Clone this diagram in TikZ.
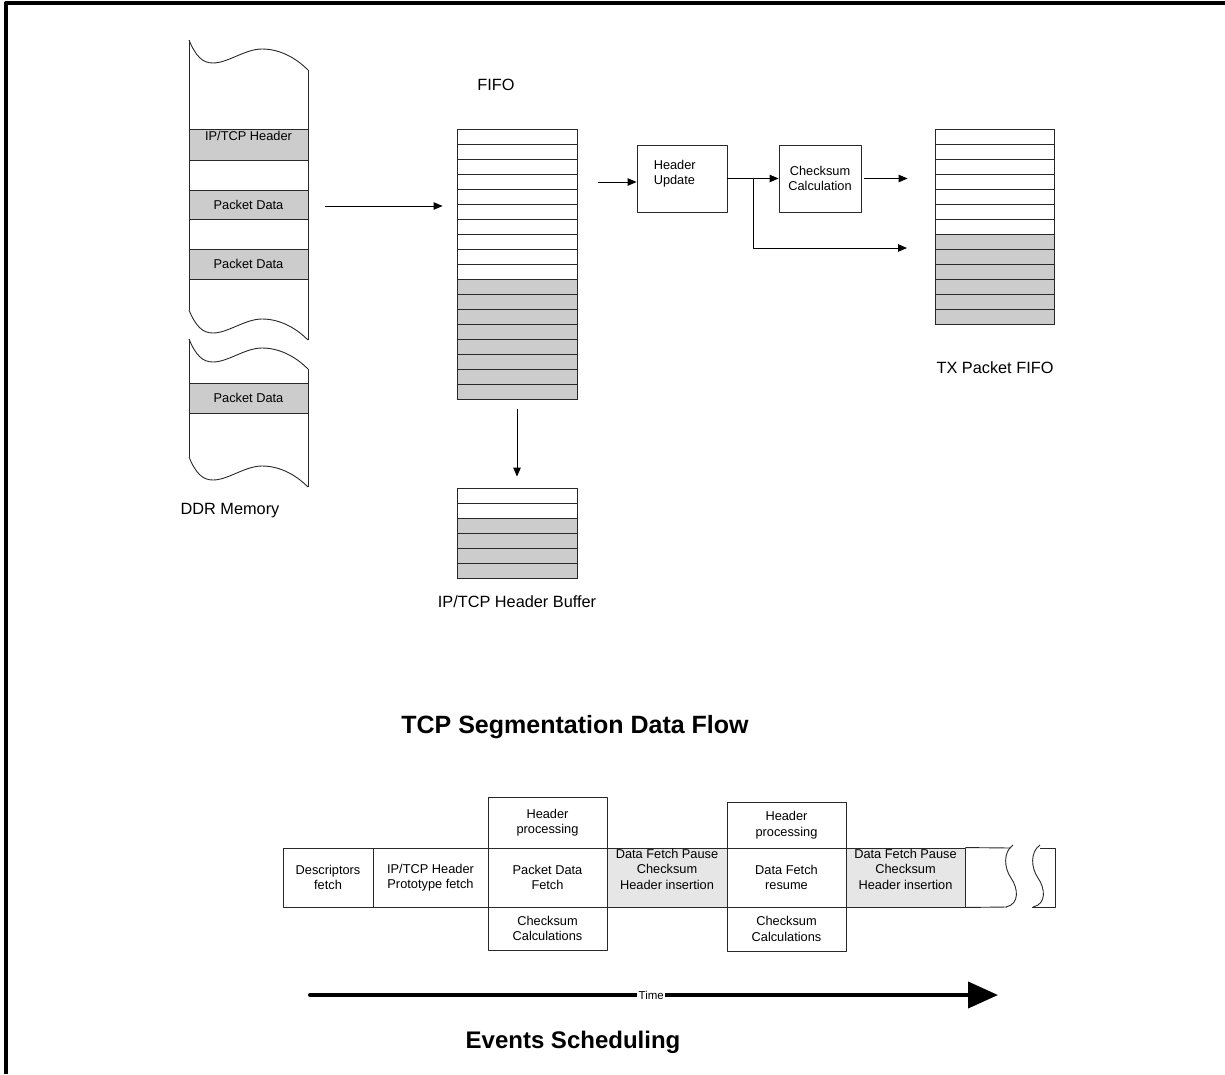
\documentclass[tikz,border=0pt]{standalone}
\usepackage{fontspec}
\setmainfont{Liberation Sans}
\usetikzlibrary{arrows.meta,positioning}
\definecolor{cellgray}{RGB}{204,204,204}
\definecolor{slotgray}{RGB}{230,230,230}
\definecolor{edge}{RGB}{40,40,40}

\begin{document}
\begin{tikzpicture}[x=1pt,y=-1pt,line join=round,>={Triangle[length=9pt,width=7.5pt]},
  every node/.style={inner sep=1pt},
  txt/.style={font=\fontsize{12.8}{15.5}\selectfont,align=center},
  captxt/.style={font=\fontsize{16.3}{19}\selectfont},
  heading/.style={font=\bfseries\fontsize{#1}{28}\selectfont},
  slot/.style args={#1x#2}{draw=edge,line width=0.9pt,inner sep=0pt,minimum width=#1,minimum height=#2},
  mem/.style={draw=edge,line width=0.9pt},
  cell/.style={draw=edge,line width=0.9pt},
  flow/.style={draw=black,line width=0.9pt,->}]
  \useasboundingbox (0,0) rectangle (1225,1074);
  % frame
  \draw[line width=4pt] (6,1074) -- (6,3) -- (1225,3);

  % DDR memory
  \node[slot=119x31,fill=cellgray] (hdr) at (248.5,144.5) {};
  \node[txt,below=1pt] (hdrt) at (hdr.north) {IP/TCP Header};
  \node[slot=119x29,fill=cellgray,txt] (pd1) at (248.5,204.5) {Packet Data};
  \node[slot=119x30,fill=cellgray,txt] (pd2) at (248.5,264) {Packet Data};
  \node[slot=119x30,fill=cellgray,txt] (pd3) at (248.5,398) {Packet Data};
  \foreach \o in {0,270,299,417}
    \draw[mem] (189,{40+\o}) .. controls (196,{57+\o}) and (203,{63+\o}) .. (213,{63+\o})
      .. controls (228,{63+\o}) and (245,{49+\o}) .. (262,{49+\o})
      .. controls (282,{49+\o}) and (298,{60+\o}) .. (308,{70+\o});
  \draw[mem] (189,40) -- (189,310) (308,70) -- (308,340);
  \draw[mem] (189,339) -- (189,457) (308,369) -- (308,487);
  \node[captxt] (ddrl) at (230,511) {DDR Memory};

  % FIFO
  \foreach \i in {0,...,9} \draw[cell] (457,{129+15*\i}) rectangle ++(120,15);
  \foreach \i in {10,...,17} \draw[cell,fill=cellgray] (457,{129+15*\i}) rectangle ++(120,15);
  \node[slot=120x270] (fifo) at (517,264) {};
  \node[captxt] (fifol) at (496,85) {FIFO};

  % header buffer
  \foreach \i in {0,1} \draw[cell] (457,{488+15*\i}) rectangle ++(120,15);
  \foreach \i in {2,...,5} \draw[cell,fill=cellgray] (457,{488+15*\i}) rectangle ++(120,15);
  \node[slot=120x90] (hbuf) at (517,533) {};
  \node[captxt] (hbl) at (517,602) {IP/TCP Header Buffer};

  % TX packet FIFO
  \foreach \i in {0,...,6} \draw[cell] (935,{129+15*\i}) rectangle ++(119,15);
  \foreach \i in {7,...,12} \draw[cell,fill=cellgray] (935,{129+15*\i}) rectangle ++(119,15);
  \node[slot=119x195] (txf) at (994.5,226.5) {};
  \node[captxt] (txl) at (995,368) {TX Packet FIFO};

  % processing blocks
  \node[slot=90x67] (hupd) at (682,178.5) {};
  \node[txt,align=left,anchor=north west] (hupdt) at ([xshift=16pt,yshift=-14pt]hupd.north west) {Header\\Update};
  \node[slot=82x67,txt] (csum) at (820,178.5) {Checksum\\Calculation};

  \coordinate (ddrout) at (325,206);
  \coordinate (fifoout) at (598,182);
  \coordinate (split) at (753,178.5);
  \coordinate (txin) at (907,248);
  \draw[flow,shorten >=14pt] (ddrout) -- (ddrout -| fifo.west);
  \draw[flow,shorten <=10pt,shorten >=11pt] (fifo.south) -- (hbuf.north);
  \draw[flow] (fifoout) -- (fifoout -| hupd.west);
  \draw[flow] (hupd.east) -- (csum.west);
  \draw[flow] (split) |- (txin);
  \draw[flow,shorten <=3pt,shorten >=27pt] (csum.east) -- (csum.east -| txf.west);

  \node[heading=25] (title1) at (575,727) {TCP Segmentation Data Flow};

  % events row
  \node[slot=90x59,txt] (desc) at (328,877.5) {Descriptors\\fetch};
  \node[slot=115x59,txt] (proto) at (430.5,877.5) {IP/TCP Header\\Prototype fetch};
  \node[slot=119x51,txt] (hp1) at (547.5,822.5) {Header\\processing};
  \node[slot=119x59,txt] (pdf) at (547.5,877.5) {Packet Data\\Fetch};
  \node[slot=119x43,txt] (cc1) at (547.5,928.5) {Checksum\\Calculations};
  \node[slot=120x59,fill=slotgray] (gap1) at (667,877.5) {};
  \node[txt,below=0pt] (gap1t) at (gap1.north) {Data Fetch Pause\\Checksum\\Header insertion};
  \node[slot=119x46,txt] (hp2) at (786.5,825) {Header\\processing};
  \node[slot=119x59,txt] (dfr) at (786.5,877.5) {Data Fetch\\resume};
  \node[slot=119x44,txt] (cc2) at (786.5,929) {Checksum\\Calculations};
  \node[slot=119x59,fill=slotgray] (gap2) at (905.5,877.5) {};
  \node[txt,below=0pt] (gap2t) at (gap2.north) {Data Fetch Pause\\Checksum\\Header insertion};
  % open end with break marks
  \draw[mem] (gap2.north east) -- (1011,848);
  \draw[mem] (gap2.south east) -- (1007,907);
  \draw[mem] (1040,848) -- (1055,848) -- (1055,907) -- (1032,907);
  \foreach \dx in {0,27}
    \draw[mem] ({1013+\dx},845) .. controls ({1003+\dx},852) and ({1004+\dx},868) .. ({1011+\dx},878)
      .. controls ({1018+\dx},888) and ({1020+\dx},904) .. ({1006+\dx},907);

  % time axis
  \coordinate (tstart) at (310,995);
  \coordinate (tend) at (998,995);
  \draw[line width=4pt,line cap=round,-{Triangle[length=30pt,width=26pt]}] (tstart) -- (tend)
    node[pos=0.496,fill=white,inner sep=1.5pt,font=\fontsize{11.5}{13}\selectfont] (timel) {Time};

  \node[heading=24] (title2) at (573,1042) {Events Scheduling};
\end{tikzpicture}
\end{document}
